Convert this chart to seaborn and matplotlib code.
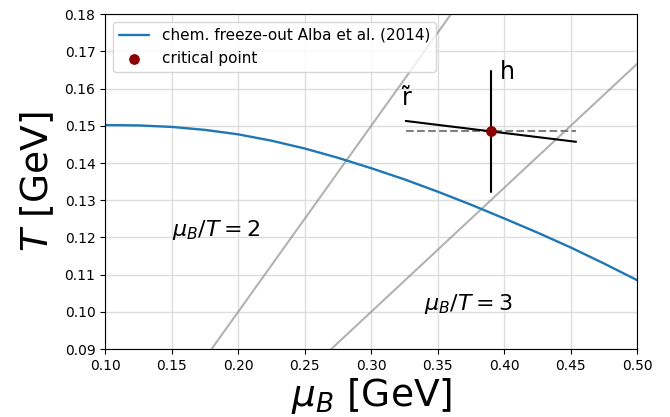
import numpy as np
import pandas as pd
from matplotlib import pyplot as plt
import seaborn as sns

# freeze-out curve
mu_fo = [0.100, 0.125, 0.150, 0.175, 0.200, 0.225, 0.250, 0.275, 0.300,
         0.325, 0.350, 0.375, 0.400, 0.425, 0.450, 0.475, 0.500]
T_fo = [0.1502, 0.1501, 0.1497, 0.1489, 0.1477, 0.1460, 0.1439, 0.1414,
        0.1386, 0.1356, 0.1323, 0.1288, 0.1251, 0.1213, 0.1173, 0.1130,
        0.1085]

# lines of constant mu_B/T
ratios = [2, 3]
mu_range = [0.0, 0.6]

# critical point and its axes
cp_mu, cp_T = 0.39, 0.1485
h_mu = [0.39, 0.39]
h_T = [0.1322, 0.1647]
r_mu = [0.326, 0.454]
r_T = [0.1513, 0.1457]
dash_mu = [0.326, 0.454]

sns.set_style("ticks")
plt.rcParams["text.color"] = "black"
plt.rcParams["axes.labelcolor"] = "black"

fig, ax = plt.subplots(figsize=(6.7, 4.17), dpi=100)
fig.subplots_adjust(left=0.157, right=0.951, top=0.966, bottom=0.163)

for r in ratios:
    ax.plot(mu_range, [m / r for m in mu_range], color="gray", alpha=0.6, lw=1.5)

df_fo = pd.DataFrame({"mu": mu_fo, "T": T_fo})
sns.lineplot(data=df_fo, x="mu", y="T", ax=ax, color="#1f77b4", lw=1.7,
             label="chem. freeze-out Alba et al. (2014)")

ax.plot(dash_mu, [cp_T, cp_T], color="gray", ls="--", lw=1.5)
ax.plot(h_mu, h_T, color="black", lw=1.5)
ax.plot(r_mu, r_T, color="black", lw=1.5)
ax.scatter([cp_mu], [cp_T], color="darkred", s=45, zorder=5, label="critical point")

ax.text(0.397, 0.1625, "h", fontsize=17)
ax.text(0.323, 0.1555, "r\u0303", fontsize=17)
ax.text(0.150, 0.1203, r"$\mu_B/T = 2$", fontsize=16)
ax.text(0.340, 0.1005, r"$\mu_B/T = 3$", fontsize=16)

ax.set_xlim(0.10, 0.50)
ax.set_ylim(0.09, 0.18)
ax.set_xticks(np.arange(0.10, 0.501, 0.05))
ax.set_yticks(np.arange(0.09, 0.1801, 0.01))
ax.xaxis.set_major_formatter(plt.FormatStrFormatter("%.2f"))
ax.yaxis.set_major_formatter(plt.FormatStrFormatter("%.2f"))
ax.tick_params(labelsize=10, color="black", labelcolor="black")
for s in ax.spines.values():
    s.set_color("black")
ax.grid(True, color="#dddddd", lw=1)
ax.set_axisbelow(True)

ax.set_xlabel(r"$\mu_B$ [GeV]", fontsize=27, labelpad=2)
ax.set_ylabel(r"$T$ [GeV]", fontsize=27, labelpad=6)
ax.legend(loc="upper left", fontsize=11, frameon=True)

plt.savefig("out.png", dpi=100)
